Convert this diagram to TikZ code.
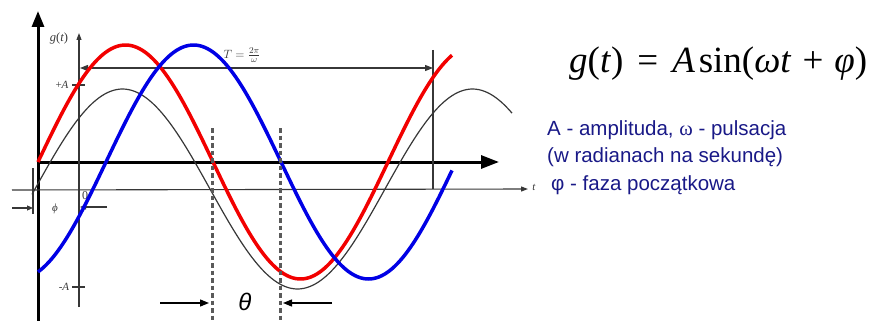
\documentclass[tikz,border=0pt]{standalone}
\usepackage{fontspec}
\setmainfont{Liberation Serif}
\setsansfont{Liberation Sans}
\usetikzlibrary{arrows.meta}
\definecolor{navy}{RGB}{25,25,135}
\definecolor{grline}{RGB}{55,55,55}
\definecolor{dashgr}{RGB}{90,90,90}
\begin{document}
\begin{tikzpicture}[x=1pt,y=-1pt,
  thickaxis/.style={line width=3pt,black},
  thinaxis/.style={line width=1.1pt,grline},
  redcurve/.style={line width=3.5pt,red!95!black},
  bluecurve/.style={line width=3.5pt,blue!90!black},
  greycurve/.style={line width=1.2pt,grline},
  dashline/.style={line width=3pt,dashgr,dash pattern=on 4.5pt off 3pt},
  lbl/.style={inner sep=0pt,text=grline,font=\fontsize{11}{12}\selectfont},
  desc/.style={inner sep=0pt,anchor=west,text=navy,font=\sffamily\fontsize{20.5}{24}\selectfont}]
\useasboundingbox (0,0) rectangle (875,321);
% thick axes
\coordinate (vb) at (38,321);
\coordinate (vt) at (38,11);
\coordinate (hl) at (38,162);
\coordinate (hr) at (499,162);
\draw[thickaxis,-{Triangle[length=16pt,width=12pt]}] (vb) -- (vt);
\draw[thickaxis,-{Triangle[length=18pt,width=13pt]}] (hl) -- (hr);
% thin original axes
\coordinate (tl) at (12,190);
\coordinate (tr) at (528,189);
\coordinate (gb) at (79,307);
\coordinate (gt) at (79,33);
\draw[thinaxis,-{Triangle[length=7pt,width=5pt]}] (tl) -- (tr);
\draw[thinaxis,-{Triangle[length=7pt,width=5pt]}] (gb) -- (gt);
% ticks +A -A
\coordinate (pa1) at (72,85); \coordinate (pa2) at (85,85);
\coordinate (ma1) at (72,287); \coordinate (ma2) at (85,287);
\draw[thinaxis] (pa1) -- (pa2);
\draw[thinaxis] (ma1) -- (ma2);
% period
\coordinate (pv1) at (433,50);
\coordinate (pv2) at (433,189);
\draw[thinaxis] (pv1) -- (pv2);
\coordinate (ta) at (80,68);
\coordinate (tb) at (433,68);
\draw[thinaxis,{Triangle[length=8pt,width=6pt]}-{Triangle[length=8pt,width=6pt]}] (ta) -- (tb);
% phi marker
\coordinate (ph1) at (33,168);
\coordinate (ph2) at (33,214);
\draw[thinaxis] (ph1) -- (ph2);
\coordinate (pa) at (12,208);
\coordinate (pb) at (33,208);
\draw[thinaxis,-{Triangle[length=6pt,width=5pt]}] (pa) -- (pb);
\coordinate (za) at (107,207);
\coordinate (zb) at (80,207);
\draw[thinaxis,-{Triangle[length=6pt,width=5pt]}] (za) -- (zb);
\node[lbl,font=\fontsize{12}{13}\selectfont] (zerolab) at (85,196) {0};
% curves
\draw[greycurve] plot[domain=32:512,samples=160] (\x,{189-100*sin(1.028571*(\x-35))});
\draw[redcurve] plot[domain=38:452,samples=160] (\x,{162-117*sin(1.028571*(\x-38))});
\draw[bluecurve] plot[domain=38:452,samples=160] (\x,{162-117*sin(1.028571*(\x-106))});
% labels of original figure
\node[lbl] (tlab) at (534,187) {\textit{t}};
\node[lbl,font=\fontsize{12.5}{13}\selectfont] (glab) at (59,38) {\textit{g}(\textit{t})};
\node[lbl] (plusA) at (62,85) {+\textit{A}};
\node[lbl] (minusA) at (64,287) {-\textit{A}};
\node[lbl,font=\fontsize{13}{14}\selectfont] (Tlab) at (242,55) {$T=\frac{2\pi}{\omega}$};
\node[lbl] (philab) at (55,209) {\textit{ϕ}};
% dashed lines
\coordinate (d1t) at (212,128); \coordinate (d1b) at (212,321);
\coordinate (d2t) at (280,128); \coordinate (d2b) at (280,321);
\draw[dashline] (d1t) -- (d1b);
\draw[dashline] (d2t) -- (d2b);
% theta
\coordinate (th1) at (160,303); \coordinate (th2) at (209,303);
\coordinate (th3) at (332,303); \coordinate (th4) at (283,303);
\draw[line width=1.3pt,-{Triangle[length=9pt,width=7pt]}] (th1) -- (th2);
\draw[line width=1.3pt,-{Triangle[length=9pt,width=7pt]}] (th3) -- (th4);
\node[inner sep=0pt,font=\sffamily\itshape\fontsize{24}{26}\selectfont] (theta) at (245,302) {θ};
% formula
\node[inner sep=0pt,anchor=base west,font=\fontsize{37}{42}\selectfont] (formula) at (569,73)
  {\textit{g}(\textit{t})\hspace{0.38em}=\hspace{0.38em}\textit{A}\hspace{0.1em}sin(\textit{ωt}\hspace{0.3em}+\hspace{0.3em}\textit{φ})};
% description
\node[desc] (d1) at (547,130) {A - amplituda, {\rmfamily ω} - pulsacja};
\node[desc] (d2) at (547,157) {(w radianach na sekundę)};
\node[desc] (d3) at (551,185) {φ - faza początkowa};
\end{tikzpicture}
\end{document}
